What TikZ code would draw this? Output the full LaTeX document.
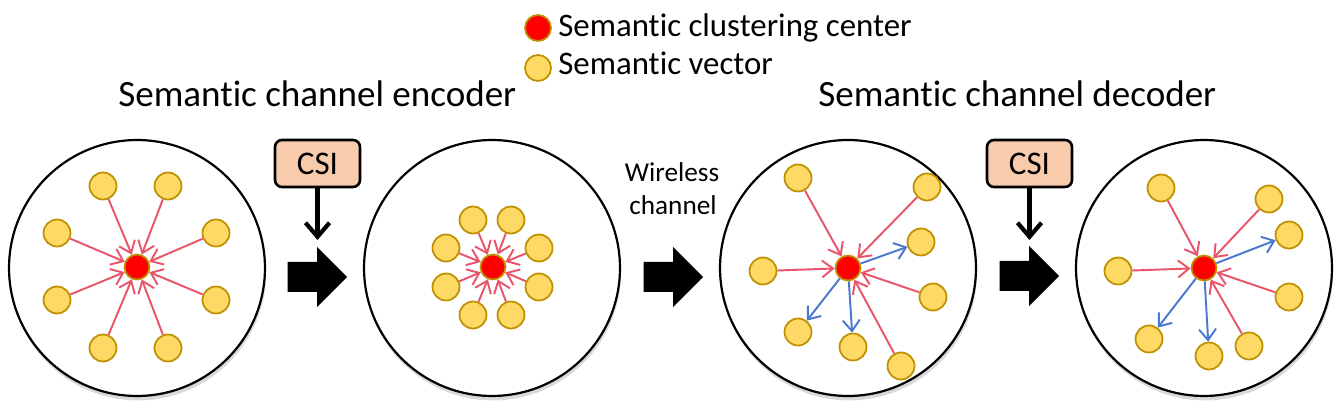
\documentclass[tikz,border=0pt]{standalone}
\usepackage{fontspec}
\setmainfont{Carlito}
\usetikzlibrary{arrows.meta,shadows}
\definecolor{vecfill}{HTML}{FFD966}
\definecolor{vecedge}{HTML}{BF9000}
\definecolor{inred}{HTML}{E9546B}
\definecolor{outblue}{HTML}{4A78D0}
\definecolor{csifill}{HTML}{F8CBAD}
\newcommand{\semword}{Semant\kern0pt ic}
\tikzset{
 disk/.style={circle, draw=black, line width=1.25pt, fill=white, minimum size=5.12cm, inner sep=0pt,
   drop shadow={opacity=0.3, shadow xshift=0.6pt, shadow yshift=-2.5pt}},
 vec/.style={circle, fill=vecfill, draw=vecedge, line width=1pt, minimum size=0.54cm, inner sep=0pt},
 ctr/.style={circle, fill=red, draw=vecedge, line width=1pt, minimum size=0.5cm, inner sep=0pt},
 inarrow/.style={draw=inred, line width=1.1pt, -{Straight Barb[length=0.22cm,width=0.34cm]}},
 outarrow/.style={draw=outblue, line width=1.1pt, -{Straight Barb[length=0.22cm,width=0.34cm]}},
 csibox/.style={rounded corners=0.14cm, draw=black, line width=1.5pt, fill=csifill, minimum width=1.7cm,
   minimum height=0.94cm, inner sep=0pt, font=\fontsize{18.8}{22}\selectfont},
 csiarrow/.style={line width=2.4pt, -{Straight Barb[length=0.28cm,width=0.48cm]}},
 title/.style={anchor=base west, inner sep=0pt, font=\fontsize{21.1}{26}\selectfont},
 legend/.style={anchor=base west, inner sep=0pt, font=\fontsize{18.7}{22}\selectfont},
 wtext/.style={anchor=base, inner sep=0pt, font=\fontsize{15.5}{18}\selectfont},
 bigarr/.pic={\fill[black] (-29.5,-15) -- (0,-15) -- (0,-30) -- (30,0) -- (0,30) -- (0,15) -- (-29.5,15) -- cycle;}
}
\begin{document}
\begin{tikzpicture}[x=0.02cm,y=-0.02cm]
\useasboundingbox (0,0) rectangle (1341,411);

% legend
\node[ctr, minimum size=0.52cm] (legc) at (538,28) {};
\node[vec, minimum size=0.52cm] (legv) at (538,68) {};
\node[legend] (legct) at (558,37) {\semword{} clustering center};
\node[legend] (legvt) at (558,75) {\semword{} vector};

% titles
\node[title] (enc) at (118,107) {\semword{} channel encoder};
\node[title] (dec) at (818,107) {\semword{} channel decoder};

% disks
\node[disk] (d1) at (137,268) {};
\node[disk] (d2) at (492,268) {};
\node[disk] (d3) at (848,268) {};
\node[disk] (d4) at (1204,268) {};

% disk 1
\node[ctr] (r1) at (137,267) {};
\foreach \x/\y [count=\i] in {103/186,168/186,57/233,216/233,57/300,216/300,103/348,168/348}{
  \node[vec] (a\i) at (\x,\y) {};
  \draw[inarrow] (a\i) -- (r1);
}
% disk 2
\node[ctr] (r2) at (493,267) {};
\foreach \x/\y [count=\i] in {473/220,511/220,446/248,539/248,446/287,539/287,473/315,511/315}{
  \node[vec] (b\i) at (\x,\y) {};
  \draw[inarrow] (b\i) -- (r2);
}
% disk 3
\node[ctr] (r3) at (848,268) {};
\foreach \x/\y [count=\i] in {798/178,927/187,763/271,933/297,901/366}{
  \node[vec] (ci\i) at (\x,\y) {};
  \draw[inarrow] (ci\i) -- (r3);
}
\foreach \x/\y [count=\i] in {921/242,798/332,853/347}{
  \node[vec] (co\i) at (\x,\y) {};
  \draw[outarrow] (r3) -- (co\i);
}
% disk 4
\node[ctr] (r4) at (1204,268) {};
\foreach \x/\y [count=\i] in {1161/188,1269/199,1118/271,1289/297,1249/346}{
  \node[vec] (di\i) at (\x,\y) {};
  \draw[inarrow] (di\i) -- (r4);
}
\foreach \x/\y [count=\i] in {1289/235,1149/339,1209/356}{
  \node[vec] (do\i) at (\x,\y) {};
  \draw[outarrow] (r4) -- (do\i);
}

% CSI boxes
\node[csibox] (csi1) at (317.5,163.5) {CSI};
\node[csibox] (csi2) at (1029.5,163.5) {CSI};
\coordinate (t1) at (317,240);
\coordinate (t2) at (1029,240);
\draw[csiarrow] (csi1.south) -- (csi1.south |- t1);
\draw[csiarrow] (csi2.south) -- (csi2.south |- t2);

% block arrows
\pic at (317,277) {bigarr};
\pic at (673,277) {bigarr};
\pic at (1029,276) {bigarr};

% wireless channel
\node[wtext] (w1) at (672,182) {Wireless};
\node[wtext] (w2) at (673,215) {channel};
\end{tikzpicture}
\end{document}
